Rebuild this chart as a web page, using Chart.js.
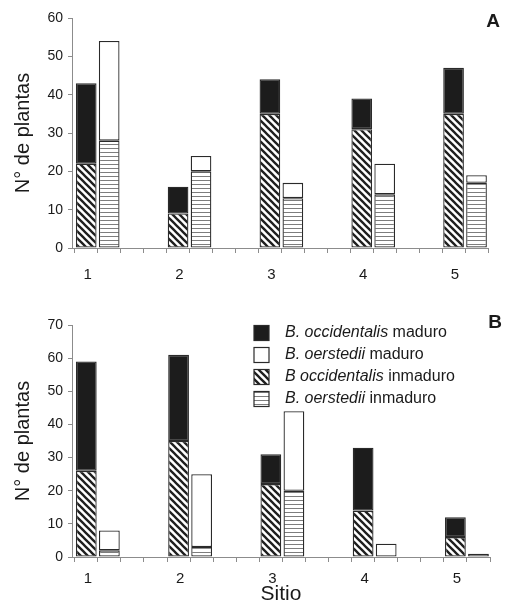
<!DOCTYPE html>
<html lang="es">
<head>
<meta charset="UTF-8">
<title>N° de plantas por sitio</title>
<script src="https://cdn.jsdelivr.net/npm/chart.js"></script>
<style>
  body { margin: 0; background: #fff; font-family: 'Liberation Sans', Arial, sans-serif; }
  .panel { position: absolute; left: 0; width: 507px; }
  #panelA { top: 0; height: 290px; }
  #panelB { top: 300px; height: 315px; }
</style>
</head>
<body>
<div class="panel" id="panelA"><canvas id="chartA"></canvas></div>
<div class="panel" id="panelB"><canvas id="chartB"></canvas></div>

<script>
// sites on the x axis
const sitios = [1, 2, 3, 4, 5];

// panel A
const occMaduroA   = [21, 7, 9, 8, 12];
const occInmaduroA = [22, 9, 35, 31, 35];
const oerMaduroA   = [26, 4, 4, 8, 2];
const oerInmaduroA = [28, 20, 13, 14, 17];

// panel B
const occMaduroB   = [33, 26, 9, 19, 6];
const occInmaduroB = [26, 35, 22, 14, 6];
const oerMaduroB   = [6, 22, 24, 4, 1];
const oerInmaduroB = [2, 3, 20, 0, 0];

// y tick labels
const yTicksA = [0, 10, 20, 30, 40, 50, 60];
const yTicksB = [0, 10, 20, 30, 40, 50, 60, 70];

// legend text: italic part + plain part
const legendItalic = ['B. occidentalis', 'B. oerstedii', 'B occidentalis', 'B. oerstedii'];
const legendPlain  = [' maduro', ' maduro', ' inmaduro', ' inmaduro'];

const FONT = "'Liberation Sans', Arial, sans-serif";
const INK = '#1a1a1a';
const AXIS = '#8c8c8c';

// fill patterns
function diagPattern() {
    const s = 7;
    const c = document.createElement('canvas');
    c.width = s; c.height = s;
    const g = c.getContext('2d');
    g.fillStyle = '#fff';
    g.fillRect(0, 0, s, s);
    g.strokeStyle = '#1e1e1e';
    g.lineWidth = 2.3;
    for (const k of [-s, 0, s]) {
        g.beginPath();
        g.moveTo(-1, k - 1);
        g.lineTo(s + 1, k + s + 1);
        g.stroke();
    }
    return g.createPattern(c, 'repeat');
}
function horizPattern() {
    const c = document.createElement('canvas');
    c.width = 4; c.height = 4;
    const g = c.getContext('2d');
    g.fillStyle = '#fff';
    g.fillRect(0, 0, 4, 4);
    g.fillStyle = '#7d7d7d';
    g.fillRect(0, 0, 4, 1);
    return g.createPattern(c, 'repeat');
}

// minor tick marks every quarter site
const xTicks = [];
sitios.forEach((s, i) => {
    xTicks.push(s - 0.25, s, s + 0.25);
    if (i < sitios.length - 1) xTicks.push(s + 0.5);
});

const pts = arr => sitios.map((s, i) => ({ x: s, y: arr[i] }));

function makeDatasets(occI, occM, oerI, oerM) {
    const base = { borderColor: '#2a2a2a', borderWidth: 1.3, borderSkipped: false,
                   categoryPercentage: 2, barPercentage: 0.9 };
    return [
        { ...base, label: 'B occidentalis inmaduro', data: pts(occI), stack: 'occ', backgroundColor: diagPattern() },
        { ...base, label: 'B. occidentalis maduro', data: pts(occM), stack: 'occ', backgroundColor: '#1c1c1c' },
        { ...base, label: 'B. oerstedii inmaduro', data: pts(oerI), stack: 'oer', backgroundColor: horizPattern() },
        { ...base, label: 'B. oerstedii maduro', data: pts(oerM), stack: 'oer', backgroundColor: '#fff' }
    ];
}

function panelLetter(letter, x, y) {
    return {
        id: 'letter' + letter,
        afterDraw(chart) {
            const ctx = chart.ctx;
            ctx.save();
            ctx.font = 'bold 19px ' + FONT;
            ctx.fillStyle = INK;
            ctx.textAlign = 'center';
            ctx.textBaseline = 'middle';
            ctx.fillText(letter, x, y);
            ctx.restore();
        }
    };
}

// legend with italic species names (order: occ mad, oer mad, occ inm, oer inm)
const legendOrder = [1, 3, 0, 2];
const legendPlugin = {
    id: 'mixedLegend',
    afterDraw(chart) {
        const ctx = chart.ctx;
        ctx.save();
        legendOrder.forEach((di, row) => {
            const ds = chart.data.datasets[di];
            const y = 33 + row * 22;
            ctx.fillStyle = ds.backgroundColor;
            ctx.fillRect(254, y - 7.5, 15, 15);
            ctx.strokeStyle = '#2a2a2a';
            ctx.lineWidth = 1.2;
            ctx.strokeRect(254, y - 7.5, 15, 15);
            ctx.fillStyle = INK;
            ctx.textBaseline = 'middle';
            ctx.font = 'italic 16px ' + FONT;
            ctx.fillText(legendItalic[row], 285, y);
            const w = ctx.measureText(legendItalic[row]).width;
            ctx.font = '16px ' + FONT;
            ctx.fillText(legendPlain[row], 285 + w, y);
        });
        ctx.restore();
    }
};

function makeOptions(yTicks, padding, xHeight, xLabelPad, showTitle) {
    return {
        responsive: true,
        maintainAspectRatio: false,
        animation: false,
        layout: { padding },
        plugins: { legend: { display: false }, tooltip: { enabled: false } },
        scales: {
            x: {
                type: 'linear',
                offset: false,
                min: 0.72,
                max: 5.25,
                afterBuildTicks: s => { s.ticks = xTicks.map(v => ({ value: v })); },
                afterFit: s => { s.height = xHeight; },
                grid: { offset: false, drawOnChartArea: false, color: AXIS, tickLength: 5 },
                border: { color: AXIS, width: 1 },
                ticks: {
                    autoSkip: false, maxRotation: 0, padding: xLabelPad, labelOffset: -10,
                    color: INK, font: { family: FONT, size: 15 },
                    callback: v => Number.isInteger(v) ? String(v) : ''
                },
                title: {
                    display: showTitle, text: 'Sitio', color: INK,
                    font: { family: FONT, size: 21 }, padding: { top: 0, bottom: 8 }
                }
            },
            y: {
                stacked: true,
                min: yTicks[0],
                max: yTicks[yTicks.length - 1],
                afterBuildTicks: s => { s.ticks = yTicks.map(v => ({ value: v })); },
                afterFit: s => { s.width = 72; },
                grid: { drawOnChartArea: false, color: AXIS, tickLength: 4 },
                border: { color: AXIS, width: 1 },
                ticks: { padding: 5, color: INK, font: { family: FONT, size: 14 } },
                title: {
                    display: true, text: 'N° de plantas', color: INK,
                    font: { family: FONT, size: 20 }, padding: { top: 11, bottom: 0 }
                }
            }
        }
    };
}

new Chart(document.getElementById('chartA'), {
    type: 'bar',
    data: { datasets: makeDatasets(occInmaduroA, occMaduroA, oerInmaduroA, oerMaduroA) },
    options: makeOptions(yTicksA, { top: 18, right: 19, left: 0, bottom: 0 }, 42, 13, false),
    plugins: [panelLetter('A', 493, 22)]
});

new Chart(document.getElementById('chartB'), {
    type: 'bar',
    data: { datasets: makeDatasets(occInmaduroB, occMaduroB, oerInmaduroB, oerMaduroB) },
    options: makeOptions(yTicksB, { top: 25, right: 17, left: 0, bottom: 0 }, 58, 8, true),
    plugins: [panelLetter('B', 495, 23), legendPlugin]
});
</script>
</body>
</html>
